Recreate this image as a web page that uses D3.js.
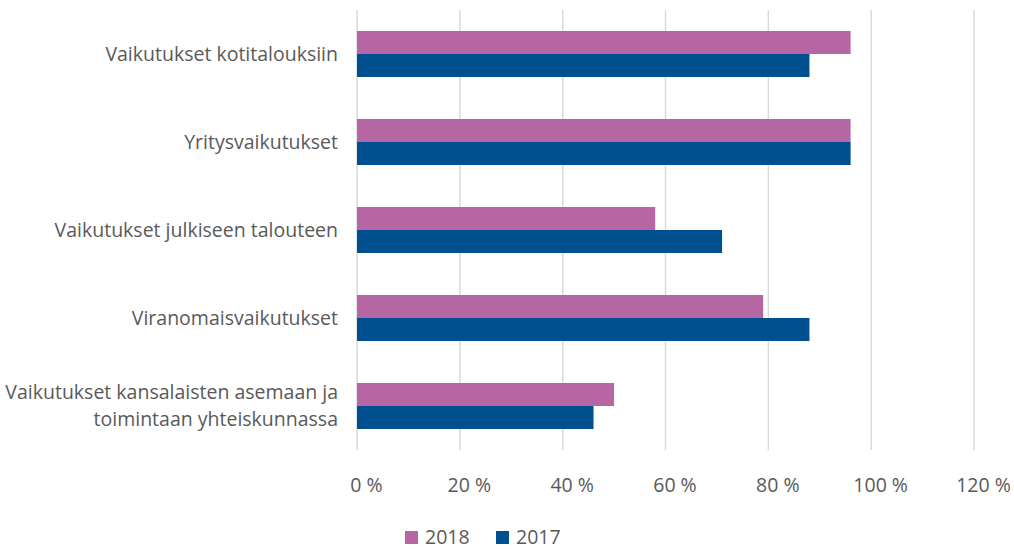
<!DOCTYPE html>
<html>
<head>
<meta charset="utf-8">
<script src="https://cdn.jsdelivr.net/npm/d3@7"></script>
<style>
  body { margin: 0; background: #fff; }
  svg text { font-family: "Open Sans", sans-serif; fill: #595959; }
</style>
</head>
<body>
<svg class="chart_svg" width="1014" height="549"></svg>
<script>
/* Data */
let categories = [
    ["Vaikutukset kotitalouksiin"],
    ["Yritysvaikutukset"],
    ["Vaikutukset julkiseen talouteen"],
    ["Viranomaisvaikutukset"],
    ["Vaikutukset kansalaisten asemaan ja", "toimintaan yhteiskunnassa"]
];
let series_names = ["2018", "2017"];
let values_2018 = [96, 96, 58, 79, 50];
let values_2017 = [88, 96, 71, 88, 46];
let x_ticks = [0, 20, 40, 60, 80, 100, 120];
let colors = ["#b566a3", "#00508f"];

let svg = d3.select("svg.chart_svg");
let font_size = "19.5px";

let x = d3.scaleLinear().domain([0, 120]).range([357, 974]);
let y = d3.scaleBand().domain(d3.range(categories.length)).range([10, 450]);
let y_inner = d3.scaleBand().domain(series_names).range([0, 46]);
let bar_offset = (y.bandwidth() - 46) / 2;

/* Gridlines */
svg.append("g").selectAll("line")
    .data(x_ticks)
    .enter()
    .append("line")
    .attr("x1", d => x(d)).attr("x2", d => x(d))
    .attr("y1", 10).attr("y2", 450)
    .attr("stroke", "#d9d9d9")
    .attr("stroke-width", 1.5);

/* Bars */
let rows = categories.map(function(c, i){
    return {index: i, values: [values_2018[i], values_2017[i]]};
});

let groups = svg.append("g").selectAll("g")
    .data(rows)
    .enter()
    .append("g")
    .attr("transform", d => "translate(0," + (y(d.index) + bar_offset) + ")");

groups.selectAll("rect")
    .data(d => d.values.map((v, k) => ({name: series_names[k], value: v, k: k})))
    .enter()
    .append("rect")
    .attr("x", x(0))
    .attr("y", d => y_inner(d.name))
    .attr("width", d => x(d.value) - x(0))
    .attr("height", y_inner.bandwidth())
    .attr("fill", d => colors[d.k]);

/* Category labels */
let labels = svg.append("g").selectAll("text")
    .data(categories)
    .enter()
    .append("text")
    .attr("text-anchor", "end")
    .attr("font-size", font_size)
    .attr("x", 338)
    .attr("y", (d, i) => y(i) + y.bandwidth() / 2);

labels.selectAll("tspan")
    .data(d => d)
    .enter()
    .append("tspan")
    .attr("x", 338)
    .attr("dy", function(d, j){
        let n = d3.select(this.parentNode).datum().length;
        if (j === 0) return (0.35 - (n - 1) * 0.69) + "em";
        return "1.38em";
    })
    .text(d => d);

/* X axis labels */
let x_axis = d3.axisBottom(x)
    .tickValues(x_ticks)
    .tickSize(0)
    .tickPadding(0)
    .tickFormat(d => d + " %");

svg.append("g")
    .attr("transform", "translate(9,0)")
    .call(x_axis)
    .call(g => g.select(".domain").remove())
    .selectAll("text")
    .attr("y", 492)
    .attr("dy", null)
    .attr("font-size", font_size)
    .attr("font-family", "Open Sans, sans-serif")
    .attr("fill", "#595959");

/* Legend */
let legend = svg.append("g").selectAll("g")
    .data(series_names)
    .enter()
    .append("g")
    .attr("transform", (d, i) => "translate(" + (405 + i * 91) + ",531)");

legend.append("rect")
    .attr("width", 13).attr("height", 13)
    .attr("fill", (d, i) => colors[i]);

legend.append("text")
    .attr("x", 20).attr("y", 12.5)
    .attr("font-size", font_size)
    .text(d => d);
</script>
</body>
</html>
